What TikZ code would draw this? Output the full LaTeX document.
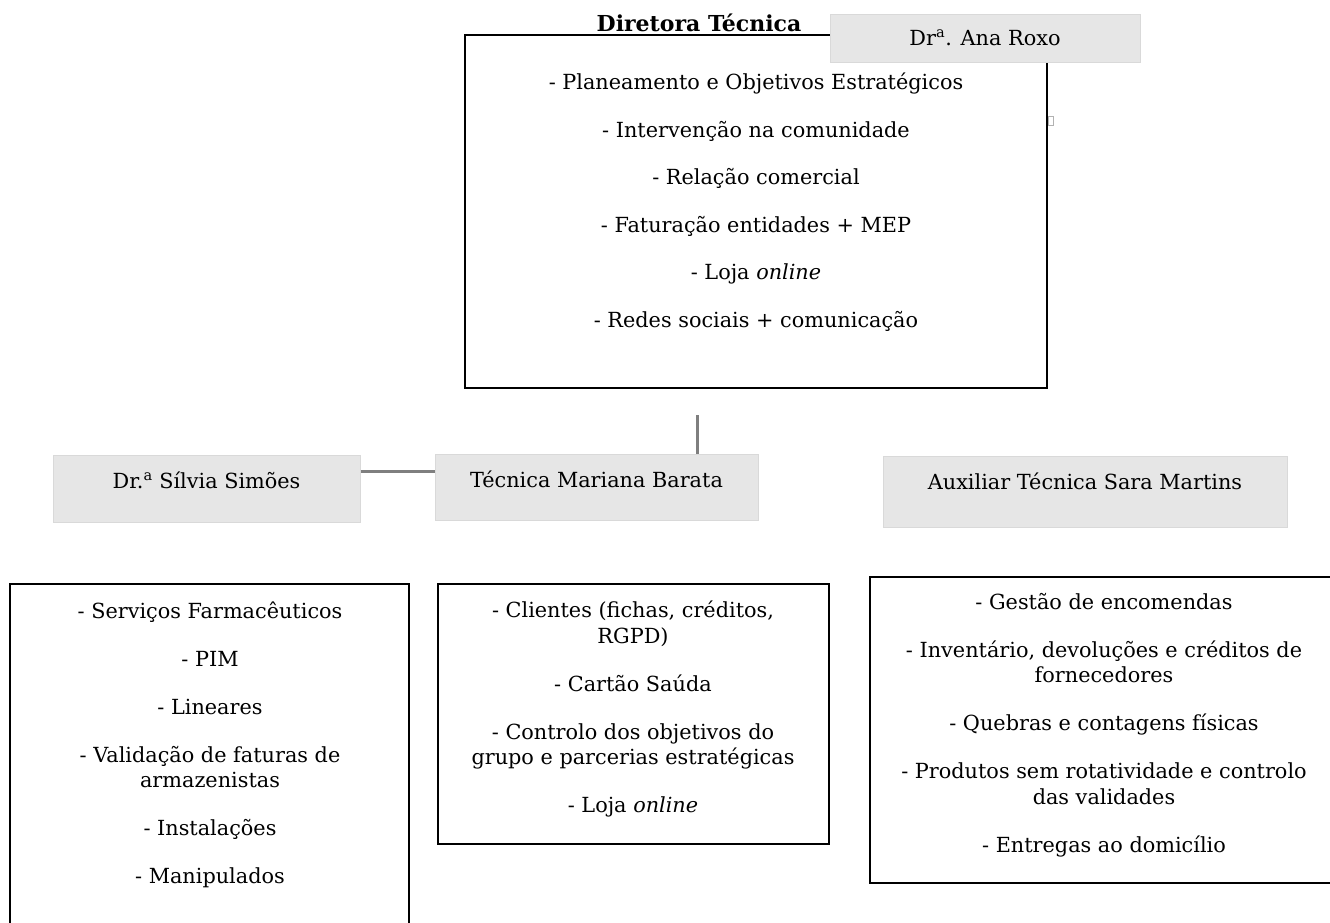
\documentclass[tikz,border=0pt]{standalone}
\usepackage{fontspec}
\setmainfont{DejaVu Serif}
\definecolor{boxgray}{HTML}{E6E6E6}
\definecolor{boxedge}{HTML}{D9D9D9}
\definecolor{conngray}{HTML}{7F7F7F}
\begin{document}
\begin{tikzpicture}[x=1pt,y=-1pt,
  txt/.style={font=\fontsize{20.8}{25.5}\selectfont, align=center, inner sep=0pt},
  listbox/.style={draw=black, line width=2pt, inner sep=0pt},
  rolebox/.style={fill=boxgray, draw=boxedge, line width=1pt, inner sep=0pt},
  conn/.style={draw=conngray, line width=3pt},
  handle/.style={draw=gray!60, fill=white, line width=0.6pt, inner sep=0pt}]
\useasboundingbox (0,0) rectangle (1330,922);

% --- Director: responsibilities box and name tag
\node[listbox, minimum width=582pt, minimum height=353pt] (dir) at (756,211.5) {};
\node[handle, minimum width=5pt, minimum height=9pt] (hdl) at (1051,121) {};
\node[txt] (dirt) at (756,202) {%
- Planeamento e Objetivos Estratégicos\\[22pt]
- Intervenção na comunidade\\[22pt]
- Relação comercial\\[22pt]
- Faturação entidades + MEP\\[22pt]
- Loja \textit{online}\\[22pt]
- Redes sociais + comunicação};
\node[txt, font=\fontsize{22}{26}\selectfont\bfseries, anchor=base] (title) at (699,31) {Diretora Técnica};
\node[rolebox, minimum width=310pt, minimum height=48pt] (ana) at (985,38) {};
\node[txt] (anat) at (985,38) {Dr\textsuperscript{a}. Ana Roxo};

% --- Staff name tags
\node[rolebox, minimum width=307pt, minimum height=67pt] (sil) at (206.5,488.5) {};
\node[txt] (silt) at (206.5,480) {Dr.\textsuperscript{a} Sílvia Simões};
\node[rolebox, minimum width=323pt, minimum height=66pt] (tec) at (596.5,487) {};
\node[txt] (tect) at (596.5,479) {Técnica Mariana Barata};
\node[rolebox, minimum width=404pt, minimum height=71pt] (aux) at (1085,491.5) {};
\node[txt] (auxt) at (1085,481) {Auxiliar Técnica Sara Martins};

% --- Connectors
\coordinate (vtop) at (697,415);
\draw[conn] (vtop) -- (vtop |- tec.north);
\draw[conn] ([yshift=17.5pt]sil.east) -- ([yshift=17.5pt]sil.east -| tec.west);

% --- Task boxes
\node[listbox, minimum width=399pt, minimum height=356pt] (silb) at (209.5,762) {};
\node[txt] (silbt) at (210,745) {%
- Serviços Farmacêuticos\\[22.5pt]
- PIM\\[22.5pt]
- Lineares\\[22.5pt]
- Validação de faturas de\\
armazenistas\\[22.5pt]
- Instalações\\[22.5pt]
- Manipulados};

\node[listbox, minimum width=391pt, minimum height=260pt] (tecb) at (633.5,714) {};
\node[txt] (tecbt) at (633,709) {%
- Clientes (fichas, créditos,\\
RGPD)\\[22.5pt]
- Cartão Saúda\\[22.5pt]
- Controlo dos objetivos do\\
grupo e parcerias estratégicas\\[22.5pt]
- Loja \textit{online}};

\node[listbox, minimum width=475pt, minimum height=306pt] (auxb) at (1107.5,730) {};
\node[txt] (auxbt) at (1104,725) {%
- Gestão de encomendas\\[22.5pt]
- Inventário, devoluções e créditos de\\
fornecedores\\[22.5pt]
- Quebras e contagens físicas\\[22.5pt]
- Produtos sem rotatividade e controlo\\
das validades\\[22.5pt]
- Entregas ao domicílio};
\end{tikzpicture}
\end{document}
